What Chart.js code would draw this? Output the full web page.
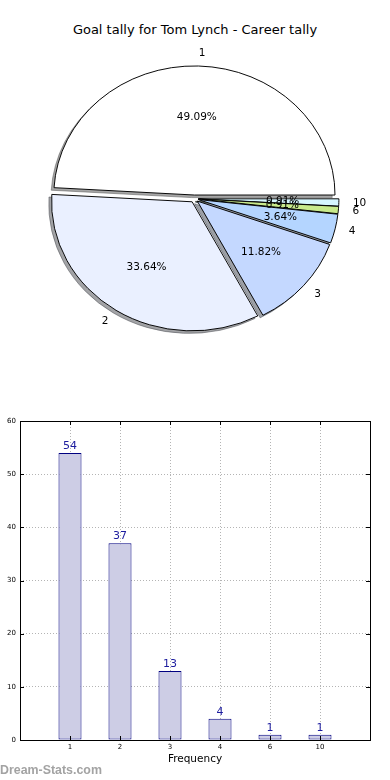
<!DOCTYPE html>
<html>
<head>
<meta charset="utf-8">
<script src="https://cdn.jsdelivr.net/npm/chart.js@4"></script>
<style>
  body { margin: 0; background: #fff; width: 390px; height: 780px; position: relative; overflow: hidden; font-family: "DejaVu Sans", sans-serif; }
  #title { position: absolute; top: 22px; left: 0; width: 390px; text-align: center; font-size: 13px; line-height: 16px; color: #000; }
  #pie { position: absolute; left: 0; top: 0; }
  #bars { position: absolute; left: 0; top: 400px; }
  #mark { position: absolute; left: 0; top: 763px; font-family: "Liberation Sans", sans-serif; font-weight: bold; font-size: 12.4px; line-height: 14px; color: #a3a3a3; }
</style>
</head>
<body>
<div id="title">Goal tally for Tom Lynch - Career tally</div>
<canvas id="pie" width="390" height="400"></canvas>
<canvas id="bars" width="390" height="380"></canvas>
<div id="mark">Dream-Stats.com</div>
<script>
// goals per game -> number of games
const categories = ['1', '2', '3', '4', '6', '10'];
const goalCounts = [54, 37, 13, 4, 1, 1];
const sliceColors = ['#ffffff', '#eaf0ff', '#c4d8ff', '#b4d5ff', '#c8ea8c', '#d6f6ff'];
const yMax = 60;

const explode = 4;      // px pulled out along the slice middle
const squash = 0.918;   // the pie is drawn a bit flat, like the original
const shadowDx = -2.8, shadowDy = 2.8;

function shadeOf(hex) {
  const n = parseInt(hex.slice(1), 16);
  const r = Math.round(((n >> 16) & 255) * 0.3);
  const g = Math.round(((n >> 8) & 255) * 0.3);
  const b = Math.round((n & 255) * 0.3);
  return 'rgba(' + r + ',' + g + ',' + b + ',0.5)';
}

const explodedPie = {
  id: 'explodedPie',
  beforeDatasetsDraw(chart) {
    const ctx = chart.ctx;
    const arcs = chart.getDatasetMeta(0).data;
    const cx = arcs[0].x, cy = arcs[0].y;
    ctx.save();
    ctx.translate(cx, cy);
    ctx.scale(1, squash);
    ctx.translate(-cx, -cy);
    // shadows first, all under the slices
    arcs.forEach(arc => {
      const mid = (arc.startAngle + arc.endAngle) / 2;
      const o = arc.options;
      const shade = shadeOf(o.backgroundColor);
      ctx.save();
      ctx.translate(Math.cos(mid) * explode + shadowDx, Math.sin(mid) * explode + shadowDy);
      arc.options = Object.assign({}, o, { backgroundColor: shade, borderColor: shade });
      arc.draw(ctx);
      arc.options = o;
      ctx.restore();
    });
    arcs.forEach(arc => {
      const mid = (arc.startAngle + arc.endAngle) / 2;
      ctx.save();
      ctx.translate(Math.cos(mid) * explode, Math.sin(mid) * explode);
      arc.draw(ctx);
      ctx.restore();
    });
    ctx.restore();
    return false;
  },
  afterDraw(chart) {
    const ctx = chart.ctx;
    const arcs = chart.getDatasetMeta(0).data;
    const values = chart.data.datasets[0].data;
    const total = values.reduce((a, b) => a + b, 0);
    ctx.save();
    ctx.font = '10.5px "DejaVu Sans"';
    ctx.fillStyle = '#000';
    ctx.textBaseline = 'middle';
    arcs.forEach((arc, i) => {
      const mid = (arc.startAngle + arc.endAngle) / 2;
      const r = arc.outerRadius;
      const c = Math.cos(mid), s = Math.sin(mid);
      const lr = explode + 1.1 * r;
      ctx.textAlign = c >= 0 ? 'left' : 'right';
      ctx.fillText(chart.data.labels[i], arc.x + lr * c, arc.y + lr * s * squash);
      const pr = explode + 0.6 * r;
      ctx.textAlign = 'center';
      ctx.fillText((values[i] / total * 100).toFixed(2) + '%', arc.x + pr * c, arc.y + pr * s * squash);
    });
    ctx.restore();
  }
};

new Chart(document.getElementById('pie'), {
  type: 'pie',
  data: {
    // pie goes counter-clockwise from 3 o'clock in the original, so feed it reversed
    labels: categories.slice().reverse(),
    datasets: [{
      data: goalCounts.slice().reverse(),
      backgroundColor: sliceColors.slice().reverse(),
      borderColor: '#000',
      borderWidth: 1,
      offset: 0
    }]
  },
  options: {
    responsive: false,
    animation: false,
    rotation: 90,
    radius: 140.6,
    layout: { padding: { left: 0, right: 1.4, top: 2, bottom: 4.6 } },
    plugins: { legend: { display: false }, tooltip: { enabled: false } }
  },
  plugins: [explodedPie]
});

const barExtras = {
  id: 'barExtras',
  afterDatasetsDraw(chart) {
    const ctx = chart.ctx;
    ctx.save();
    ctx.font = '11px "DejaVu Sans"';
    ctx.fillStyle = '#1c1c9e';
    ctx.textAlign = 'center';
    ctx.textBaseline = 'alphabetic';
    chart.getDatasetMeta(0).data.forEach((bar, i) => {
      ctx.fillText(String(goalCounts[i]), bar.x, bar.y - 4);
    });
    ctx.restore();
  },
  afterDraw(chart) {
    const ctx = chart.ctx;
    const a = chart.chartArea;
    const xs = chart.scales.x, ys = chart.scales.y;
    ctx.save();
    ctx.strokeStyle = '#000';
    ctx.lineWidth = 1;
    ctx.beginPath();
    categories.forEach((c, i) => {
      const px = Math.round(xs.getPixelForValue(i + 1)) + 0.5;
      ctx.moveTo(px, a.top); ctx.lineTo(px, a.top + 4);
      ctx.moveTo(px, a.bottom); ctx.lineTo(px, a.bottom - 4);
    });
    for (let v = 0; v <= yMax; v += 10) {
      const py = Math.round(ys.getPixelForValue(v)) + 0.5;
      ctx.moveTo(a.left, py); ctx.lineTo(a.left + 4, py);
      ctx.moveTo(a.right, py); ctx.lineTo(a.right - 4, py);
    }
    ctx.stroke();
    ctx.strokeRect(Math.round(a.left) + 0.5, Math.round(a.top) + 0.5, Math.round(a.right - a.left), Math.round(a.bottom - a.top));
    ctx.restore();
  }
};

new Chart(document.getElementById('bars'), {
  type: 'bar',
  data: {
    datasets: [{
      data: goalCounts.map((v, i) => ({ x: i + 1, y: v })),
      backgroundColor: '#cdcde5',
      borderColor: '#000080',
      borderWidth: 1,
      borderSkipped: false,
      barPercentage: 0.46,
      categoryPercentage: 1
    }]
  },
  options: {
    responsive: false,
    animation: false,
    layout: { padding: { top: 21, left: 0, right: 20, bottom: 10 } },
    plugins: { legend: { display: false }, tooltip: { enabled: false } },
    scales: {
      x: {
        type: 'linear',
        min: 0,
        max: categories.length + 1,
        offset: false,
        z: 1,
        afterFit(s) { s.height = 30; },
        grid: { color: '#b4b4b4', lineWidth: 1, drawTicks: false, offset: false },
        border: { display: false, dash: [1, 2] },
        ticks: {
          stepSize: 1,
          autoSkip: false,
          maxRotation: 0,
          padding: 3,
          color: '#000',
          font: { size: 7, family: '"DejaVu Sans"' },
          callback: v => (v >= 1 && v <= categories.length) ? categories[v - 1] : ''
        },
        title: {
          display: true,
          text: 'Frequency',
          color: '#000',
          font: { size: 10.5, family: '"DejaVu Sans"' },
          padding: { top: 0, bottom: 4 }
        }
      },
      y: {
        min: 0,
        max: yMax,
        z: 1,
        afterFit(s) { s.width = 20; },
        grid: { color: '#b4b4b4', lineWidth: 1, drawTicks: false },
        border: { display: false, dash: [1, 2] },
        ticks: {
          stepSize: 10,
          padding: 4,
          color: '#000',
          font: { size: 7, family: '"DejaVu Sans"' }
        }
      }
    }
  },
  plugins: [barExtras]
});
</script>
</body>
</html>
